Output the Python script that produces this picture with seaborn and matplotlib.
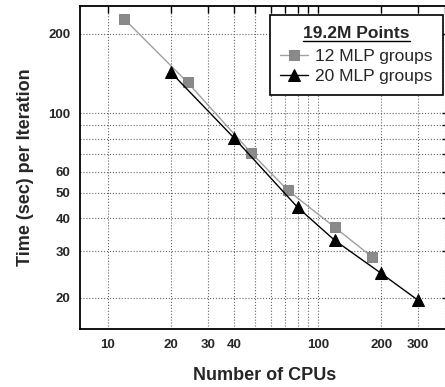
import matplotlib
matplotlib.use('Agg')
import matplotlib.pyplot as plt
import matplotlib.ticker as mticker
from matplotlib.lines import Line2D
import seaborn as sns
import pandas as pd

# data
cpus_12 = [12, 24, 48, 72, 120, 180]
time_12 = [228, 131, 71, 51, 37, 28.6]
cpus_20 = [20, 40, 80, 120, 200, 300]
time_20 = [143, 80.5, 44, 33, 24.7, 19.5]

x_major = [10, 20, 30, 40, 100, 200, 300]
x_minor = [50, 60, 70, 80, 90, 400]
y_major = [20, 30, 40, 50, 60, 100, 200]
y_minor = [70, 80, 90]

df12 = pd.DataFrame({'cpus': cpus_12, 'time': time_12})
df20 = pd.DataFrame({'cpus': cpus_20, 'time': time_20})

sns.set_style('white')
plt.rcParams['font.family'] = ['Liberation Sans', 'DejaVu Sans']

fig = plt.figure(figsize=(4.45, 3.87), dpi=100)
ax = fig.add_axes([0.180, 0.150, 0.829, 0.834])

sns.lineplot(x='cpus', y='time', data=df12, ax=ax, color='#a0a0a0',
             marker='s', markersize=7, markeredgecolor='#888888',
             markerfacecolor='#8a8a8a', linewidth=1.0,
             label='12 MLP groups')
sns.lineplot(x='cpus', y='time', data=df20, ax=ax, color='black',
             marker='^', markersize=9, markeredgecolor='black',
             markerfacecolor='black', linewidth=1.0,
             label='20 MLP groups')

ax.set_xscale('log')
ax.set_yscale('log')
ax.set_xlim(7.4, 420)
ax.set_ylim(15.2, 255)

ax.xaxis.set_major_locator(mticker.FixedLocator(x_major))
ax.xaxis.set_minor_locator(mticker.FixedLocator(x_minor))
ax.yaxis.set_major_locator(mticker.FixedLocator(y_major))
ax.yaxis.set_minor_locator(mticker.FixedLocator(y_minor))
ax.xaxis.set_major_formatter(mticker.FixedFormatter([str(v) for v in x_major]))
ax.yaxis.set_major_formatter(mticker.FixedFormatter([str(v) for v in y_major]))
ax.xaxis.set_minor_formatter(mticker.NullFormatter())
ax.yaxis.set_minor_formatter(mticker.NullFormatter())

ax.grid(True, which='both', linestyle=':', color='#666666', linewidth=0.8)
ax.tick_params(which='both', direction='in', top=True, right=True,
               length=5, width=1, color='black')
ax.tick_params(axis='both', which='major', labelsize=9.5, pad=7)
for lab in ax.get_xticklabels() + ax.get_yticklabels():
    lab.set_fontweight('bold')

for s in ax.spines.values():
    s.set_color('black')
    s.set_linewidth(1.3)

ax.set_xlabel('Number of CPUs', fontsize=13, fontweight='bold', labelpad=12)
ax.set_ylabel('Time (sec) per Iteration', fontsize=13, fontweight='bold',
              labelpad=10)

leg = ax.legend(title='19.2M Points', loc='upper right',
                bbox_to_anchor=(0.984, 0.972), fontsize=12.5,
                title_fontproperties={'weight': 'bold', 'size': 12.5},
                frameon=True, fancybox=False, edgecolor='black',
                framealpha=1, handlelength=1.6, handletextpad=0.4,
                borderpad=0.6, labelspacing=0.3, borderaxespad=0)
leg.get_frame().set_linewidth(1.2)
leg._legend_box.sep = 6

fig.canvas.draw()
tb = leg.get_title().get_window_extent()
inv = fig.transFigure.inverted()
(x0, y0), (x1, y1) = inv.transform([(tb.x0, tb.y0), (tb.x1, tb.y0)])
fig.add_artist(Line2D([x0, x1], [y0, y1], transform=fig.transFigure,
                      color='black', linewidth=1.0))

fig.savefig('out.png', dpi=100)
